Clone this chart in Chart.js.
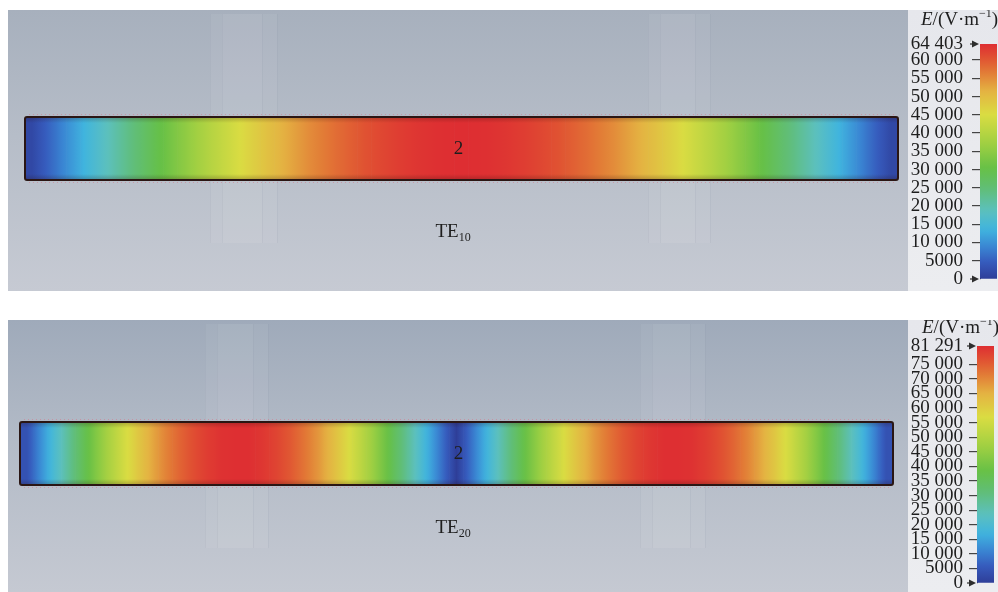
<!DOCTYPE html>
<html>
<head>
<meta charset="utf-8">
<title>TE10 / TE20 electric field at port 2</title>
<script src="https://cdn.jsdelivr.net/npm/chart.js@4.4.1/dist/chart.umd.min.js"></script>
<style>
  html, body { margin: 0; padding: 0; background: #fff; }
  #stage { position: relative; width: 998px; height: 592px; overflow: hidden; background: #fff; }
  #stage canvas { position: absolute; }
</style>
</head>
<body>
<div id="stage">
  <canvas id="fieldTE10" width="900" height="281" style="left:8px;top:10px"></canvas>
  <canvas id="scaleTE10" width="90" height="281" style="left:908px;top:10px"></canvas>
  <canvas id="fieldTE20" width="900" height="272" style="left:8px;top:320px"></canvas>
  <canvas id="scaleTE20" width="90" height="272" style="left:908px;top:320px"></canvas>
</div>
<script>
// |E| across the port cross-section, one value per column (V/m)
const te10Field = [
  1600, 4800, 8000, 11200, 14300, 17400, 20500, 23500, 26500, 29400, 32200,
  34900, 37600, 40200, 42600, 45000, 47200, 49300, 51300, 53200, 55000, 56500,
  58000, 59300, 60500, 61500, 62400, 63100, 63700, 64100, 64300, 64400,
  64300, 64100, 63700, 63100, 62400, 61500, 60500, 59300, 58000, 56500, 55000,
  53200, 51300, 49300, 47200, 45000, 42600, 40200, 37600, 34900, 32200, 29400,
  26500, 23500, 20500, 17400, 14300, 11200, 8000, 4800, 1600
];
const te20Field = [
  4100, 12100, 20100, 27800, 35300, 42400, 49100, 55300, 60900, 66000, 70400,
  74100, 77000, 79300, 80700, 81200, 81100, 80100, 78300, 75700, 72300, 68400,
  63600, 58200, 52300, 45800, 38900, 31400, 23800, 15900, 8100, 0,
  8100, 15900, 23800, 31400, 38900, 45800, 52300, 58200, 63600, 68400, 72300,
  75700, 78300, 80100, 81100, 81200, 80700, 79300, 77000, 74100, 70400, 66000,
  60900, 55300, 49100, 42400, 35300, 27800, 20100, 12100, 4100
];

// colour-scale ranges and tick labels
const te10Max = 64403;
const te20Max = 81291;
const te10Ticks = [0, 5000, 10000, 15000, 20000, 25000, 30000, 35000, 40000,
                   45000, 50000, 55000, 60000, 64403];
const te20Ticks = [0, 5000, 10000, 15000, 20000, 25000, 30000, 35000, 40000,
                   45000, 50000, 55000, 60000, 65000, 70000, 75000, 81291];

const portName = '2';
const modeLabels = [['TE', '10'], ['TE', '20']];
const unitParts = ['E', '/(V·m', '−1', ')'];

// rainbow palette of the field plot (position 0..1 -> rgb)
const PALETTE = [
  [0.00, [46, 62, 152]],
  [0.07, [54, 90, 188]],
  [0.14, [58, 136, 212]],
  [0.21, [64, 180, 222]],
  [0.29, [92, 192, 190]],
  [0.38, [96, 190, 122]],
  [0.47, [102, 192, 70]],
  [0.58, [162, 208, 66]],
  [0.70, [218, 220, 66]],
  [0.80, [228, 178, 66]],
  [0.88, [226, 122, 54]],
  [0.94, [224, 82, 50]],
  [1.00, [222, 46, 50]]
];

function colorAt(t) {
  t = Math.max(0, Math.min(1, t));
  for (let k = 1; k < PALETTE.length; k++) {
    const [t1, c1] = PALETTE[k];
    if (t <= t1) {
      const [t0, c0] = PALETTE[k - 1];
      const f = (t - t0) / (t1 - t0);
      const c = c0.map((v, j) => Math.round(v + (c1[j] - v) * f));
      return `rgb(${c[0]},${c[1]},${c[2]})`;
    }
  }
  const c = PALETTE[PALETTE.length - 1][1];
  return `rgb(${c[0]},${c[1]},${c[2]})`;
}

function fmtTick(v) {
  if (v < 10000) return String(v);
  const s = String(v);
  return s.slice(0, s.length - 3) + ' ' + s.slice(-3);
}

const SERIF = "'Liberation Serif', 'Times New Roman', serif";

// each column shades smoothly into its neighbours
function cellFill(ctx, values, vmax) {
  const i = ctx.dataIndex;
  if (i === undefined) return colorAt(0);
  const v = values[i];
  const chart = ctx.chart;
  const xs = chart.scales && chart.scales.x;
  if (!xs || !chart.chartArea || !xs.width) return colorAt(v / vmax);
  const half = xs.width / values.length / 2;
  const xc = xs.getPixelForValue(i);
  const l = (values[Math.max(i - 1, 0)] + v) / 2;
  const r = (values[Math.min(i + 1, values.length - 1)] + v) / 2;
  const g = chart.ctx.createLinearGradient(xc - half, 0, xc + half, 0);
  g.addColorStop(0, colorAt(l / vmax));
  g.addColorStop(0.25, colorAt((l + v) / 2 / vmax));
  g.addColorStop(0.5, colorAt(v / vmax));
  g.addColorStop(0.75, colorAt((r + v) / 2 / vmax));
  g.addColorStop(1, colorAt(r / vmax));
  return g;
}

function barFill(ctx) {
  const chart = ctx.chart;
  const a = chart.chartArea;
  if (!a) return colorAt(0.5);
  const g = chart.ctx.createLinearGradient(0, a.bottom, 0, a.top);
  for (let k = 0; k <= 40; k++) g.addColorStop(k / 40, colorAt(k / 40));
  return g;
}

// grey scene behind the port, with the faint posts
const panelBackdrop = {
  id: 'panelBackdrop',
  beforeDraw(chart, args, o) {
    const { ctx, width, height } = chart;
    ctx.save();
    const g = ctx.createLinearGradient(0, 0, 0, height);
    g.addColorStop(0, o.top);
    g.addColorStop(0.45, o.mid);
    g.addColorStop(1, o.bottom);
    ctx.fillStyle = g;
    ctx.fillRect(0, 0, width, height);
    (o.posts || []).forEach(([x0, x1, y1]) => {
      ctx.fillStyle = 'rgba(255,255,255,0.05)';
      ctx.fillRect(x0, 4, x1 - x0, y1 - 4);
      ctx.fillStyle = 'rgba(255,255,255,0.04)';
      ctx.fillRect(x0 + 12, 4, x1 - x0 - 27, y1 - 4);
      ctx.strokeStyle = 'rgba(130,140,158,0.10)';
      ctx.lineWidth = 1;
      [x0, x0 + 12, x1 - 15, x1].forEach(x => {
        ctx.beginPath(); ctx.moveTo(x + 0.5, 4); ctx.lineTo(x + 0.5, y1); ctx.stroke();
      });
    });
    ctx.restore();
  }
};

// outline, edge shading and captions of the port face
const stripDecor = {
  id: 'stripDecor',
  afterDatasetsDraw(chart) {
    const { ctx } = chart;
    const a = chart.chartArea;
    ctx.save();
    let g = ctx.createLinearGradient(0, a.top, 0, a.top + 6);
    g.addColorStop(0, 'rgba(40,10,10,0.25)'); g.addColorStop(1, 'rgba(40,10,10,0)');
    ctx.fillStyle = g; ctx.fillRect(a.left, a.top, a.width, 6);
    g = ctx.createLinearGradient(0, a.bottom - 6, 0, a.bottom);
    g.addColorStop(0, 'rgba(40,10,10,0)'); g.addColorStop(1, 'rgba(40,10,10,0.25)');
    ctx.fillStyle = g; ctx.fillRect(a.left, a.bottom - 6, a.width, 6);

    ctx.setLineDash([1, 3]);
    ctx.strokeStyle = 'rgba(214,120,140,0.55)';
    ctx.lineWidth = 1;
    ctx.beginPath();
    ctx.moveTo(a.left + 4, a.top - 2.5); ctx.lineTo(a.right - 4, a.top - 2.5);
    ctx.moveTo(a.left + 4, a.bottom + 2.5); ctx.lineTo(a.right - 4, a.bottom + 2.5);
    ctx.stroke();
    ctx.setLineDash([]);

    ctx.strokeStyle = '#2a1614';
    ctx.lineWidth = 2;
    ctx.beginPath();
    ctx.roundRect(a.left, a.top, a.width, a.height, 2);
    ctx.stroke();
    ctx.restore();
  },
  afterDraw(chart, args, o) {
    const { ctx } = chart;
    const a = chart.chartArea;
    const cx = (a.left + a.right) / 2;
    ctx.save();
    ctx.fillStyle = '#1e1e1e';
    ctx.textBaseline = 'middle';
    ctx.textAlign = 'center';
    ctx.font = `19px ${SERIF}`;
    ctx.fillText(o.port, cx + o.portDx, (a.top + a.bottom) / 2 + 1);

    ctx.textBaseline = 'alphabetic';
    ctx.textAlign = 'left';
    let x = cx + o.modeDx;
    const y = a.bottom + o.modeDy;
    ctx.font = `19px ${SERIF}`;
    ctx.fillText(o.mode[0], x, y);
    x += ctx.measureText(o.mode[0]).width;
    ctx.font = `12px ${SERIF}`;
    ctx.fillText(o.mode[1], x, y + 4);
    ctx.restore();
  }
};

// colour bar panel: background, end markers and unit caption
const scaleDecor = {
  id: 'scaleDecor',
  beforeDraw(chart) {
    const { ctx, width, height } = chart;
    ctx.save();
    const g = ctx.createLinearGradient(0, 0, 0, height);
    g.addColorStop(0, '#e6e7ec'); g.addColorStop(1, '#ecedf0');
    ctx.fillStyle = g;
    ctx.fillRect(0, 0, width, height);
    ctx.restore();
  },
  afterDraw(chart, args, o) {
    const { ctx } = chart;
    const a = chart.chartArea;
    const ys = chart.scales.y;
    ctx.save();
    ctx.fillStyle = '#2e2e2e';
    [ys.min, ys.max].forEach(v => {
      const y = ys.getPixelForValue(v);
      ctx.beginPath();
      ctx.moveTo(a.left - 8, y - 3.5);
      ctx.lineTo(a.left - 1, y);
      ctx.lineTo(a.left - 8, y + 3.5);
      ctx.closePath();
      ctx.fill();
      ctx.fillRect(a.left - 10, y - 0.6, 4, 1.2);
    });

    ctx.fillStyle = '#1e1e1e';
    ctx.textBaseline = 'alphabetic';
    let x = o.titleX;
    const y = o.titleY;
    ctx.font = `italic 19px ${SERIF}`;
    ctx.fillText(unitParts[0], x, y);
    x += ctx.measureText(unitParts[0]).width;
    ctx.font = `19px ${SERIF}`;
    ctx.fillText(unitParts[1], x, y);
    x += ctx.measureText(unitParts[1]).width;
    ctx.font = `12px ${SERIF}`;
    ctx.fillText(unitParts[2], x, y - 8);
    x += ctx.measureText(unitParts[2]).width;
    ctx.font = `19px ${SERIF}`;
    ctx.fillText(unitParts[3], x, y);
    ctx.restore();
  }
};

function fieldChart(id, values, vmax, pad, mode, backdrop, text) {
  return new Chart(document.getElementById(id), {
    type: 'bar',
    data: {
      labels: values.map((_, i) => i),
      datasets: [{
        data: values.map(() => [0, 1]),
        backgroundColor: ctx => cellFill(ctx, values, vmax),
        borderWidth: 0,
        barPercentage: 1,
        categoryPercentage: 1
      }]
    },
    options: {
      responsive: false,
      animation: false,
      events: [],
      layout: { padding: pad },
      scales: {
        x: { display: false },
        y: { display: false, min: 0, max: 1 }
      },
      plugins: {
        legend: { display: false },
        tooltip: { enabled: false },
        panelBackdrop: backdrop,
        stripDecor: Object.assign({ port: portName, mode: mode }, text)
      }
    },
    plugins: [panelBackdrop, stripDecor]
  });
}

function scaleChart(id, vmax, ticks, pad, axisWidth, labelPad, title) {
  return new Chart(document.getElementById(id), {
    type: 'bar',
    data: {
      labels: [''],
      datasets: [{
        data: [[0, vmax]],
        backgroundColor: barFill,
        borderWidth: 0,
        barPercentage: 1,
        categoryPercentage: 1
      }]
    },
    options: {
      responsive: false,
      animation: false,
      events: [],
      layout: { padding: pad },
      scales: {
        x: { display: false },
        y: {
          position: 'left',
          min: 0,
          max: vmax,
          afterBuildTicks(s) { s.ticks = ticks.map(v => ({ value: v })); },
          afterFit(s) {
            s.width = axisWidth;
            // the panel padding already leaves room for the end labels
            s.paddingTop = 0;
            s.paddingBottom = 0;
          },
          ticks: {
            autoSkip: false,
            padding: labelPad,
            color: '#1e1e1e',
            font: { family: SERIF, size: 19 },
            callback: v => fmtTick(v)
          },
          grid: {
            drawOnChartArea: false,
            tickLength: 8,
            lineWidth: 1.2,
            color: c => (c.tick && (c.tick.value === 0 || c.tick.value === vmax))
              ? 'rgba(0,0,0,0)' : '#444'
          },
          border: { display: true, color: '#3c3c3c', width: 1 }
        }
      },
      plugins: {
        legend: { display: false },
        tooltip: { enabled: false },
        scaleDecor: title
      }
    },
    plugins: [scaleDecor]
  });
}

fieldChart('fieldTE10', te10Field, te10Max,
  { left: 17, right: 10, top: 107, bottom: 111 }, modeLabels[0],
  { top: '#a7b0bd', mid: '#b6bdc8', bottom: '#c6cad3', posts: [[202, 269, 233], [640, 702, 233]] },
  { portDx: -3, modeDx: -26, modeDy: 57 });

fieldChart('fieldTE20', te20Field, te20Max,
  { left: 12, right: 15, top: 102, bottom: 107 }, modeLabels[1],
  { top: '#9faaba', mid: '#b3bbc7', bottom: '#c5c9d2', posts: [[197, 260, 228], [632, 697, 228]] },
  { portDx: 2, modeDx: -21, modeDy: 48 });

scaleChart('scaleTE10', te10Max, te10Ticks,
  { top: 34, bottom: 12, right: 1, left: 0 }, 72, 9, { titleX: 13, titleY: 15 });

scaleChart('scaleTE20', te20Max, te20Ticks,
  { top: 26, bottom: 9, right: 4, left: 0 }, 69, 6, { titleX: 14, titleY: 13 });
</script>
</body>
</html>
